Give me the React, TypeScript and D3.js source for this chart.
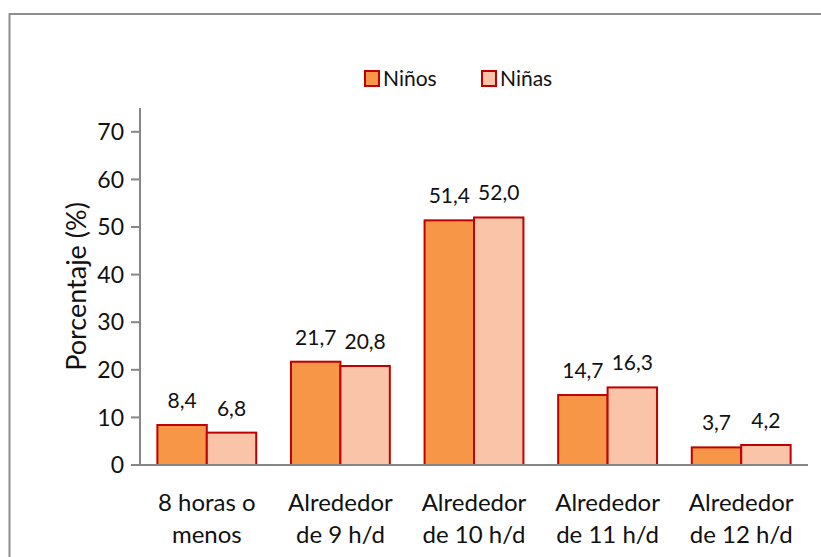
import { useEffect, useRef } from "react";
import * as d3 from "d3";

const categories = [
  ["8 horas o", "menos"],
  ["Alrededor", "de 9 h/d"],
  ["Alrededor", "de 10 h/d"],
  ["Alrededor", "de 11 h/d"],
  ["Alrededor", "de 12 h/d"],
];
const series = ["Niños", "Niñas"];
const ninos = [8.4, 21.7, 51.4, 14.7, 3.7];
const ninas = [6.8, 20.8, 52.0, 16.3, 4.2];
const yTicks = [0, 10, 20, 30, 40, 50, 60, 70];

const colors = ["#F79646", "#FAC4A9"];
const stroke = "#C00000";
const font = "Lato, 'Open Sans', sans-serif";

function App() {
  const ref = useRef<SVGSVGElement>(null);

  useEffect(() => {
    const svg = d3.select(ref.current);
    svg.selectAll("*").remove();

    const width = 821;
    const height = 557;
    const margin = { top: 108, right: 13, bottom: 92, left: 140 };

    svg.attr("width", width).attr("height", height);

    // outer frame
    svg
      .append("rect")
      .attr("x", 9.5)
      .attr("y", 14)
      .attr("width", 840)
      .attr("height", 600)
      .attr("fill", "white")
      .attr("stroke", "#8c8c8c")
      .attr("stroke-width", 2);

    const x = d3
      .scaleBand()
      .domain(d3.range(categories.length).map(String))
      .range([margin.left, width - margin.right])
      .paddingInner(0.26)
      .paddingOuter(0.13);

    const sub = d3
      .scaleBand()
      .domain(series)
      .range([0, x.bandwidth()]);

    const y = d3
      .scaleLinear()
      .domain([0, 75])
      .range([height - margin.bottom, margin.top]);

    const values = [ninos, ninas];

    // bars
    series.forEach((s, si) => {
      const g = svg.append("g");
      g.selectAll("rect")
        .data(values[si])
        .join("rect")
        .attr("x", (_, i) => x(String(i))! + sub(s)!)
        .attr("y", (d) => y(d))
        .attr("width", sub.bandwidth())
        .attr("height", (d) => y(0) - y(d))
        .attr("fill", colors[si])
        .attr("stroke", stroke)
        .attr("stroke-width", 2);

      g.selectAll("text")
        .data(values[si])
        .join("text")
        .attr("x", (_, i) => x(String(i))! + sub(s)! + sub.bandwidth() / 2)
        .attr("y", (d) => y(d) - 17)
        .attr("text-anchor", "middle")
        .attr("font-family", font)
        .attr("font-size", 21)
        .attr("fill", "#111")
        .text((d) => d.toFixed(1).replace(".", ","));
    });

    // y axis
    const axisColor = "#868686";
    svg
      .append("line")
      .attr("x1", margin.left)
      .attr("x2", margin.left)
      .attr("y1", margin.top)
      .attr("y2", y(0))
      .attr("stroke", axisColor)
      .attr("stroke-width", 2);

    const yt = svg.append("g");
    yt.selectAll("line")
      .data(yTicks)
      .join("line")
      .attr("x1", margin.left - 9)
      .attr("x2", margin.left)
      .attr("y1", (d) => y(d))
      .attr("y2", (d) => y(d))
      .attr("stroke", axisColor)
      .attr("stroke-width", 2);
    yt.selectAll("text")
      .data(yTicks)
      .join("text")
      .attr("x", margin.left - 16)
      .attr("y", (d) => y(d))
      .attr("dy", "0.36em")
      .attr("text-anchor", "end")
      .attr("font-family", font)
      .attr("font-size", 23)
      .attr("fill", "#111")
      .text((d) => d);

    // x axis baseline
    svg
      .append("line")
      .attr("x1", margin.left - 9)
      .attr("x2", width - margin.right)
      .attr("y1", y(0))
      .attr("y2", y(0))
      .attr("stroke", axisColor)
      .attr("stroke-width", 2);

    // category labels
    const xl = svg
      .append("g")
      .selectAll("text")
      .data(categories)
      .join("text")
      .attr("x", (_, i) => x(String(i))! + x.bandwidth() / 2)
      .attr("y", 511)
      .attr("text-anchor", "middle")
      .attr("font-family", font)
      .attr("font-size", 24)
      .attr("fill", "#111");
    xl.selectAll("tspan")
      .data((d) => d)
      .join("tspan")
      .attr("x", function () {
        return (this as SVGTSpanElement).parentElement!.getAttribute("x");
      })
      .attr("dy", (_, i) => (i === 0 ? 0 : 32))
      .text((d) => d);

    // y axis title
    svg
      .append("text")
      .attr("transform", `translate(86,${(margin.top + y(0)) / 2}) rotate(-90)`)
      .attr("text-anchor", "middle")
      .attr("font-family", font)
      .attr("font-size", 27)
      .attr("fill", "#111")
      .text("Porcentaje (%)");

    // legend
    const legendX = [365, 482];
    const lg = svg.append("g");
    series.forEach((s, si) => {
      lg.append("rect")
        .attr("x", legendX[si])
        .attr("y", 71)
        .attr("width", 14)
        .attr("height", 15)
        .attr("fill", colors[si])
        .attr("stroke", stroke)
        .attr("stroke-width", 2);
      lg.append("text")
        .attr("x", legendX[si] + 18)
        .attr("y", 78.5)
        .attr("dy", "0.36em")
        .attr("font-family", font)
        .attr("font-size", 21)
        .attr("fill", "#111")
        .text(s);
    });
  }, []);

  return <svg ref={ref} style={{ position: "absolute", left: 0, top: 0 }}></svg>;
}

export default App;
